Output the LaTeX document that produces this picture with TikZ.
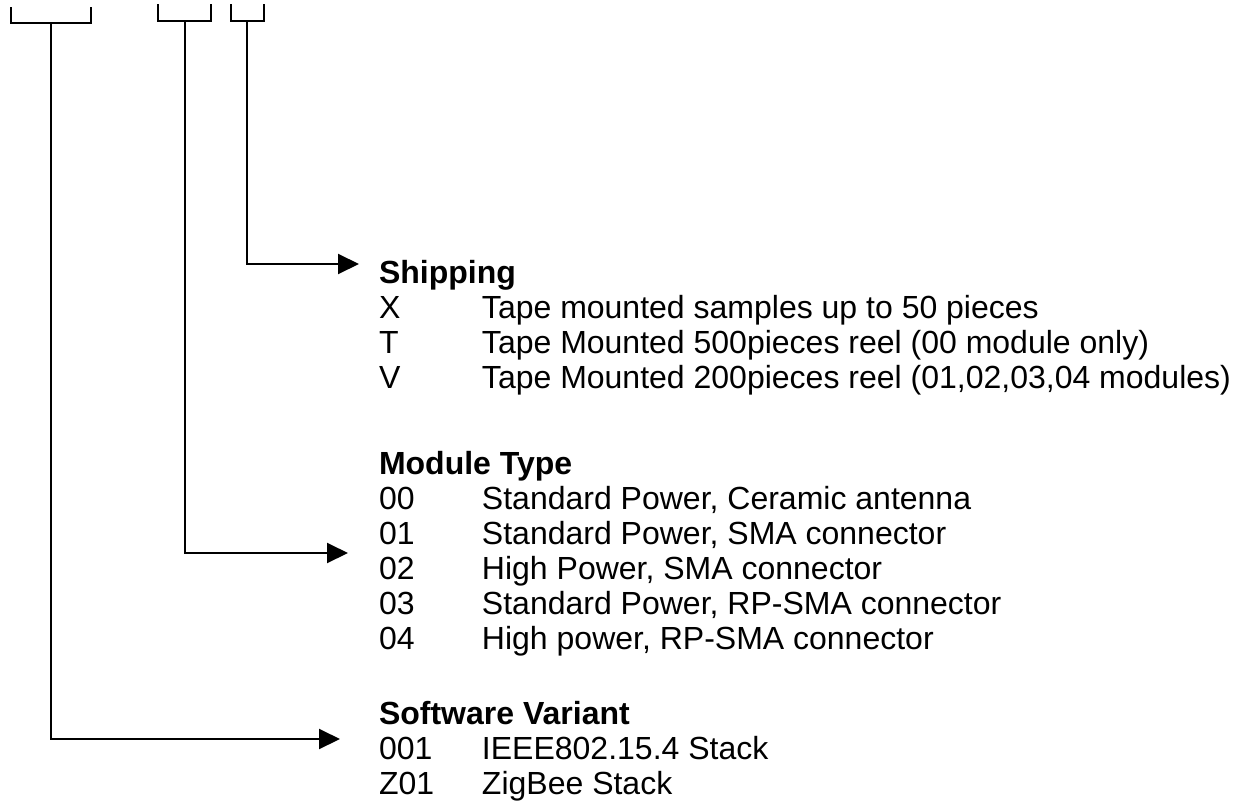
\documentclass[tikz,border=0pt]{standalone}
\usepackage{fontspec}
\setmainfont{Liberation Sans}
\usetikzlibrary{arrows.meta}
\begin{document}
\begin{tikzpicture}[x=0.5pt,y=-0.5pt,line width=1pt,
  every node/.style={font=\fontsize{16}{17.5}\selectfont,inner sep=0pt,anchor=base west},
  brk/.style={line width=1pt},
  lead/.style={line width=1pt,-{Triangle[length=10.5pt,width=10pt]}}]
  \useasboundingbox (0,0) rectangle (1251,803);
  % brackets over the part number
  \draw[brk] (11,7) |- (91,23) -- (91,7);
  \coordinate (sw) at (51,23);
  \draw[brk] (158,4) |- (211,21) -- (211,4);
  \coordinate (mt) at (185,21);
  \draw[brk] (231,4) |- (264,21) -- (264,4);
  \coordinate (sh) at (247,21);
  % arrow ends
  \coordinate (shtip) at (359,264);
  \coordinate (mttip) at (348,553);
  \coordinate (swtip) at (340,739);
  \draw[lead] (sh) |- (shtip);
  \draw[lead] (mt) |- (mttip);
  \draw[lead] (sw) |- (swtip);
  % legend
  \node (ship) at (378,283) {\begin{tabular}[t]{@{}p{51.5pt}@{}l@{}}
    \multicolumn{2}{@{}l@{}}{\textbf{Shipping}}\\
    X & Tape mounted samples up to 50 pieces\\
    T & Tape Mounted 500pieces reel (00 module only)\\
    V & Tape Mounted 200pieces reel (01,02,03,04 modules)
  \end{tabular}};
  \node (mod) at (378,474) {\begin{tabular}[t]{@{}p{51.5pt}@{}l@{}}
    \multicolumn{2}{@{}l@{}}{\textbf{Module Type}}\\
    00 & Standard Power, Ceramic antenna\\
    01 & Standard Power, SMA connector\\
    02 & High Power, SMA connector\\
    03 & Standard Power, RP-SMA connector\\
    04 & High power, RP-SMA connector
  \end{tabular}};
  \node (soft) at (378,724) {\begin{tabular}[t]{@{}p{51.5pt}@{}l@{}}
    \multicolumn{2}{@{}l@{}}{\textbf{Software Variant}}\\
    001 & IEEE802.15.4 Stack\\
    Z01 & ZigBee Stack
  \end{tabular}};
\end{tikzpicture}
\end{document}
